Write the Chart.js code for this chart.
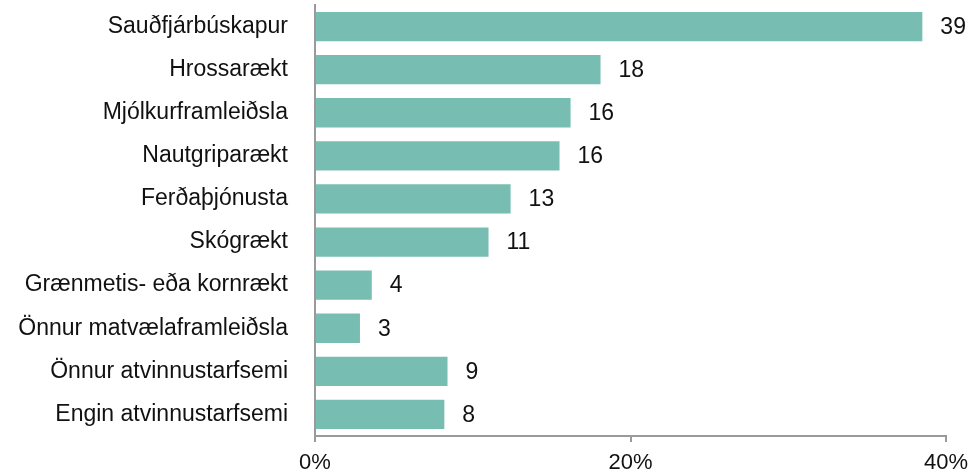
<!DOCTYPE html>
<html>
<head>
<meta charset="utf-8">
<script src="https://cdn.jsdelivr.net/npm/chart.js@4/dist/chart.umd.min.js"></script>
<style>
  html, body { margin: 0; padding: 0; background: #fff; }
  #wrap { width: 968px; height: 474px; position: relative; }
</style>
</head>
<body>
<div id="wrap"><canvas id="chart"></canvas></div>
<script>
'use strict';

// ── Data ─────────────────────────────────────────────────
const categories = [
  'Sauðfjárbúskapur',
  'Hrossarækt',
  'Mjólkurframleiðsla',
  'Nautgriparækt',
  'Ferðaþjónusta',
  'Skógrækt',
  'Grænmetis- eða kornrækt',
  'Önnur matvælaframleiðsla',
  'Önnur atvinnustarfsemi',
  'Engin atvinnustarfsemi',
];
const shares      = [38.5, 18.1, 16.2, 15.5, 12.4, 11.0, 3.6, 2.85, 8.4, 8.2];   // % (bar length)
const countLabels = [39, 18, 16, 16, 13, 11, 4, 3, 9, 8];                       // printed at bar ends
const xTicks      = [0, 20, 40];

// ── Style ────────────────────────────────────────────────
const BAR   = '#78bdb2';
const AXIS  = '#9a9a9a';
const TEXT  = '#111111';
const FONT  = "'Liberation Sans', Arial, sans-serif";

Chart.defaults.font.family = FONT;
Chart.defaults.color = TEXT;

// value labels after each bar
const barValueLabels = {
  id: 'barValueLabels',
  afterDatasetsDraw(chart) {
    const ctx  = chart.ctx;
    const meta = chart.getDatasetMeta(0);
    ctx.save();
    ctx.font = `23px ${FONT}`;
    ctx.fillStyle = TEXT;
    ctx.textAlign = 'left';
    ctx.textBaseline = 'middle';
    meta.data.forEach((bar, i) => {
      ctx.fillText(String(countLabels[i]), bar.x + 18, bar.y + 1);
    });
    ctx.restore();
  },
};

new Chart(document.getElementById('chart'), {
  type: 'bar',
  data: {
    labels: categories,
    datasets: [{
      data: shares,
      backgroundColor: BAR,
      borderWidth: 0,
      barPercentage: 0.68,
      categoryPercentage: 1,
    }],
  },
  options: {
    indexAxis: 'y',
    responsive: true,
    maintainAspectRatio: false,
    animation: false,
    layout: { padding: 0 },
    plugins: {
      legend: { display: false },
      tooltip: { enabled: false },
    },
    scales: {
      x: {
        min: 0,
        max: 40,
        afterBuildTicks: scale => { scale.ticks = xTicks.map(v => ({ value: v })); },
        afterFit: scale => {
          scale.height = 38;
          scale.paddingRight = 22;
          scale.paddingLeft = 0;
        },
        ticks: {
          callback: v => v + '%',
          font: { size: 22, lineHeight: 1.2 },
          color: TEXT,
          padding: 8,
          maxRotation: 0,
        },
        grid: {
          drawOnChartArea: false,
          drawTicks: true,
          tickLength: 6,
          color: AXIS,
          lineWidth: 2,
        },
        border: { display: true, color: AXIS, width: 2 },
      },
      y: {
        afterFit: scale => {
          scale.width = 315;
          scale.paddingTop = 5;
          scale.paddingBottom = 0;
        },
        ticks: {
          font: { size: 23 },
          color: TEXT,
          padding: 27,
        },
        grid: { display: false, drawTicks: false },
        border: { display: true, color: AXIS, width: 2 },
      },
    },
  },
  plugins: [barValueLabels],
});
</script>
</body>
</html>
